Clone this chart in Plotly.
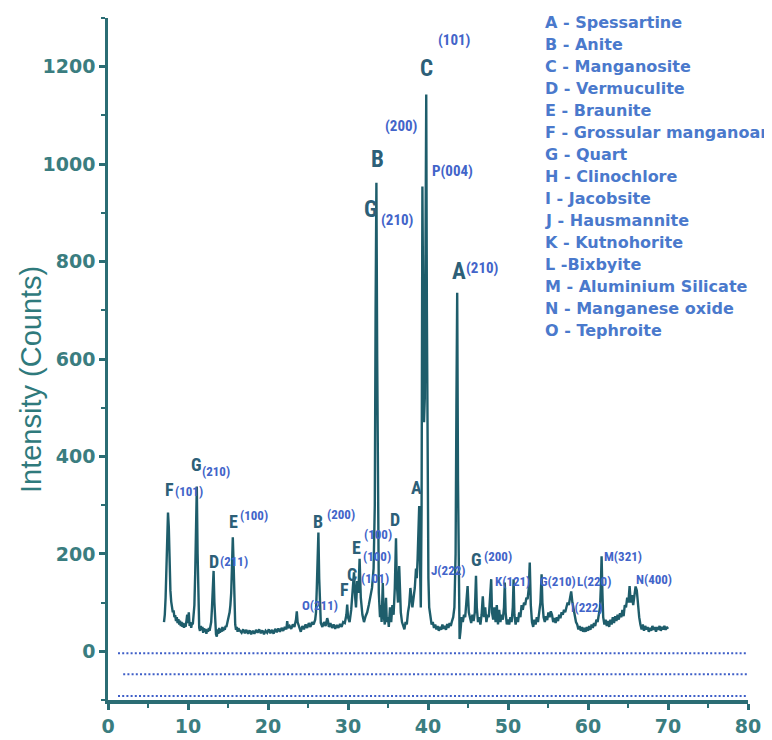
import plotly.graph_objects as go

# ---------------- data ----------------
two_theta = [
    7.00, 7.10, 7.20, 7.30, 7.40, 7.50, 7.60, 7.70, 7.80, 7.90, 8.00, 8.10, 8.20, 8.30, 8.40, 8.50,
    8.60, 8.70, 8.80, 8.90, 9.00, 9.10, 9.20, 9.30, 9.40, 9.50, 9.60, 9.70, 9.80, 9.90, 10.00, 10.10,
    10.20, 10.30, 10.40, 10.50, 10.60, 10.70, 10.80, 10.90, 11.00, 11.10, 11.20, 11.30, 11.40, 11.50, 11.60,
    11.70, 11.80, 11.90, 12.00, 12.10, 12.20, 12.30, 12.40, 12.50, 12.60, 12.70, 12.80, 12.90, 13.00,
    13.10, 13.20, 13.30, 13.40, 13.50, 13.60, 13.70, 13.80, 13.90, 14.00, 14.10, 14.20, 14.30, 14.40,
    14.50, 14.60, 14.70, 14.80, 14.90, 15.00, 15.10, 15.20, 15.30, 15.40, 15.50, 15.60, 15.70, 15.80,
    15.90, 16.00, 16.10, 16.20, 16.30,
    16.5, 16.7, 16.9, 17.1, 17.3, 17.5, 17.7, 17.9, 18.1, 18.3, 18.5, 18.7, 18.9, 19.1, 19.3, 19.5,
    19.7, 19.9, 20.1, 20.3, 20.5, 20.7, 20.9, 21.1, 21.3, 21.5, 21.7, 21.9, 22.1, 22.3, 22.4, 22.5,
    22.7, 22.9, 23.1, 23.3, 23.5, 23.6, 23.7, 23.9, 24.1, 24.3, 24.5, 24.7, 24.9, 25.1, 25.3, 25.5,
    25.7, 25.9, 26.0, 26.1, 26.2, 26.3, 26.4, 26.5, 26.6, 26.8, 27.0, 27.2, 27.4, 27.5, 27.6, 27.8,
    28.0, 28.2, 28.4, 28.6, 28.8, 29.0, 29.2, 29.4, 29.6, 29.8, 29.9, 30.0, 30.2, 30.4, 30.6, 30.75,
    30.9, 31.0, 31.15, 31.3, 31.45, 31.6, 31.8, 32.0, 32.2, 32.4, 32.6, 32.8, 33.0, 33.2, 33.35, 33.45,
    33.55, 33.65, 33.75, 33.85, 34.0, 34.1, 34.2, 34.35, 34.45, 34.6, 34.75, 34.85, 35.0, 35.1, 35.25,
    35.4, 35.55, 35.7, 35.85, 36.0, 36.1, 36.25, 36.4, 36.5, 36.6, 36.75, 36.9, 37.05, 37.2, 37.35,
    37.5, 37.65, 37.8, 37.9, 38.05, 38.2, 38.35, 38.5, 38.6, 38.7, 38.8, 38.9, 39.0, 39.1, 39.2, 39.3,
    39.4, 39.5, 39.6, 39.7, 39.78, 39.86, 39.95, 40.05, 40.15, 40.3, 40.45, 40.6, 40.75, 40.9, 41.05,
    41.2, 41.35, 41.5, 41.65, 41.8, 41.95, 42.1, 42.25, 42.4, 42.55, 42.7, 42.85, 43.0, 43.15, 43.3,
    43.45, 43.55, 43.65, 43.75, 43.85, 43.95, 44.05, 44.2, 44.35, 44.5, 44.65, 44.8, 44.95, 45.1,
    45.25, 45.4, 45.55, 45.7, 45.85, 46.0, 46.1, 46.25, 46.4, 46.55, 46.7, 46.85, 47.0, 47.15, 47.3,
    47.45, 47.6, 47.75, 47.9, 48.0, 48.15, 48.3, 48.45, 48.6, 48.75, 48.9, 49.05, 49.2, 49.35, 49.5,
    49.6, 49.7, 49.85, 50.0, 50.15, 50.3, 50.45, 50.6, 50.7, 50.8, 50.95, 51.1, 51.25, 51.4, 51.55,
    51.7, 51.85, 52.0, 52.15, 52.3, 52.45, 52.6, 52.72, 52.85, 53.0, 53.15, 53.3, 53.45, 53.6, 53.75,
    53.9, 54.05, 54.2, 54.3, 54.45, 54.6, 54.75, 54.9, 55.05, 55.2, 55.35, 55.5, 55.65, 55.8, 55.95,
    56.1, 56.25, 56.4, 56.55, 56.7, 56.85, 57.0, 57.15, 57.3, 57.45, 57.6, 57.75, 57.9, 58.05, 58.2,
    58.35, 58.5, 58.65, 58.8, 58.95, 59.1, 59.25, 59.4, 59.55, 59.7, 59.85, 60.0, 60.15, 60.3, 60.45,
    60.6, 60.75, 60.9, 61.05, 61.2, 61.35, 61.5, 61.6, 61.7, 61.8, 61.9, 62.05, 62.2, 62.35, 62.5,
    62.65, 62.8, 62.95, 63.1, 63.25, 63.4, 63.55, 63.7, 63.85, 64.0, 64.15, 64.3, 64.45, 64.6, 64.75,
    64.9, 65.05, 65.2, 65.35, 65.5, 65.65, 65.8, 65.95, 66.1, 66.25, 66.4, 66.55, 66.7, 66.85, 67.0,
    67.15, 67.3, 67.45, 67.6, 67.75, 67.9, 68.05, 68.2, 68.35, 68.5, 68.65, 68.8, 68.95, 69.1, 69.25,
    69.4, 69.55, 69.7, 69.85, 70.0,
]
counts = [
    60, 75, 110, 165, 240, 285, 255, 170, 125, 102, 92, 80, 84, 70, 74, 62,
    70, 58, 66, 55, 63, 52, 60, 50, 58, 48, 57, 50, 62, 75, 58, 80,
    52, 60, 48, 58, 55, 70, 95, 160, 280, 338, 200, 80, 48, 42, 52,
    44, 50, 38, 47, 40, 46, 36, 45, 40, 48, 42, 52, 60, 90,
    140, 165, 100, 55, 35, 30, 45, 36, 48, 38, 46, 40, 50, 42,
    48, 44, 52, 50, 58, 62, 70, 80, 95, 120, 175, 234, 180, 90,
    55, 44, 50, 40, 47,
    42, 38, 45, 37, 44, 36, 43, 35, 42, 36, 44, 38, 45, 37, 43, 35,
    42, 38, 45, 37, 44, 36, 46, 39, 47, 40, 48, 42, 50, 45, 62, 48,
    52, 46, 55, 50, 65, 82, 60, 48, 40, 52, 45, 55, 48, 58, 50, 60,
    55, 65, 80, 130, 210, 244, 150, 80, 58, 50, 60, 52, 68, 62, 50, 58,
    48, 55, 46, 54, 48, 56, 50, 60, 58, 75, 96, 70, 60, 85, 120, 162,
    110, 90, 144, 120, 190, 110, 75, 60, 72, 80, 95, 110, 130, 170, 300, 700,
    962, 600, 220, 120, 70, 95, 60, 140, 75, 55, 110, 60, 70, 50, 90,
    60, 95, 75, 130, 232, 140, 100, 175, 120, 80, 60, 50, 45, 60, 55,
    80, 95, 130, 110, 90, 110, 130, 170, 150, 190, 230, 298, 180, 90, 300, 954,
    700, 470, 520, 800, 1143, 700, 260, 150, 90, 65, 55, 60, 48, 55, 45,
    52, 42, 50, 44, 55, 46, 52, 44, 56, 48, 58, 52, 62, 70, 90,
    200, 500, 736, 350, 80, 25, 40, 70, 60, 75, 70, 100, 134, 80,
    65, 58, 75, 62, 80, 155, 90, 60, 70, 55, 75, 113, 70, 90, 60,
    75, 70, 100, 148, 80, 65, 90, 60, 95, 55, 85, 60, 75, 65, 90,
    141, 80, 55, 65, 55, 70, 60, 90, 148, 75, 55, 70, 60, 80, 70,
    95, 85, 100, 95, 110, 107, 130, 182, 95, 60, 50, 65, 55, 70, 60,
    80, 100, 158, 100, 70, 60, 72, 64, 80, 70, 82, 75, 60, 68, 58,
    70, 62, 75, 68, 80, 75, 85, 80, 90, 100, 95, 115, 123, 100, 85,
    75, 60, 55, 45, 52, 42, 50, 40, 48, 40, 50, 42, 52, 44, 55,
    48, 58, 52, 65, 60, 75, 90, 130, 195, 120, 70, 55, 65, 52, 62,
    50, 65, 55, 70, 58, 72, 62, 75, 65, 78, 70, 85, 72, 95, 90,
    110, 100, 134, 100, 115, 95, 110, 133, 125, 90, 70, 55, 45, 55, 42,
    52, 45, 50, 40, 48, 42, 52, 44, 50, 40, 50, 44, 52, 42, 50,
    45, 52, 44, 50, 46,
]

legend_lines = [
    "A - Spessartine", "B - Anite", "C - Manganosite", "D - Vermuculite", "E - Braunite",
    "F - Grossular manganoan", "G - Quart", "H - Clinochlore", "I - Jacobsite", "J - Hausmannite",
    "K - Kutnohorite", "L -Bixbyite", "M - Aluminium Silicate", "N - Manganese oxide", "O - Tephroite",
]

# phase letters on peaks (2theta, counts position)
big_letters = ["C", "B", "G", "A"]
big_letters_x = [39.83, 33.67, 32.75, 43.9]
big_letters_y = [1197, 1009, 907, 780]

small_letters = ["F", "G", "D", "E", "B", "F", "C", "E", "D", "A", "G"]
small_letters_x = [7.7, 11.1, 13.2, 15.7, 26.3, 29.6, 30.55, 31.1, 35.9, 38.6, 46.0]
small_letters_y = [332, 384, 185, 267, 267, 126, 157, 213, 271, 336, 189]

top_indices = ["(101)", "(200)", "P(004)", "(210)", "(210)"]
top_indices_x = [41.0, 34.33, 40.25, 33.9, 44.5]
top_indices_y = [1255, 1078, 985, 886, 787]

low_indices = ["(101)", "(210)", "(211)", "(100)", "(200)", "(101)", "(100)", "(100)", "O(211)",
               "J(222)", "(200)", "K(121)", "G(210)", "L(220)", "I(222)", "M(321)", "N(400)"]
low_indices_x = [8.1, 11.5, 13.8, 16.3, 27.1, 31.4, 31.65, 31.8, 24.0,
                 40.15, 46.7, 48.1, 53.8, 58.4, 57.6, 61.8, 65.7]
low_indices_y = [327, 370, 185, 278, 281, 150, 195, 240, 93,
                 165, 195, 144, 144, 144, 90, 195, 148]

dotted_levels = [-4, -47, -92]
dotted_start = [1.25, 1.9, 1.25]

# ---------------- styling ----------------
TEAL = "#2b6d74"
TICK_TEAL = "#3a7d80"
CURVE = "#1e5d6b"
LETTER = "#2d5f78"
INDEX = "#4264c9"
LEGEND = "#4a79cc"
NARROW = "Liberation Sans Narrow, Arial Narrow, Roboto Condensed, Liberation Sans, Arial"

fig = go.Figure()
fig.add_trace(go.Scatter(x=two_theta, y=counts, mode="lines",
                         line=dict(color=CURVE, width=2.4), showlegend=False, hoverinfo="skip"))

for lvl, x0 in zip(dotted_levels, dotted_start):
    fig.add_shape(type="line", xref="x", yref="y", x0=x0, x1=80, y0=lvl, y1=lvl,
                  line=dict(color="#3f5fc8", width=2, dash="2px,2.2px"), layer="below")

ann = []
for t, x, y in zip(big_letters, big_letters_x, big_letters_y):
    ann.append(dict(x=x, y=y, text=t, xref="x", yref="y", showarrow=False,
                    xanchor="center", yanchor="middle",
                    font=dict(family=NARROW, size=23, color=LETTER, weight="bold")))
for t, x, y in zip(small_letters, small_letters_x, small_letters_y):
    ann.append(dict(x=x, y=y, text=t, xref="x", yref="y", showarrow=False,
                    xanchor="center", yanchor="middle",
                    font=dict(family=NARROW, size=18, color=LETTER, weight="bold")))
for t, x, y in zip(top_indices, top_indices_x, top_indices_y):
    ann.append(dict(x=x, y=y, text=t, xref="x", yref="y", showarrow=False,
                    xanchor="left", yanchor="middle",
                    font=dict(family=NARROW, size=15, color=INDEX, weight="bold")))
for t, x, y in zip(low_indices, low_indices_x, low_indices_y):
    ann.append(dict(x=x, y=y, text=t, xref="x", yref="y", showarrow=False,
                    xanchor="left", yanchor="middle",
                    font=dict(family=NARROW, size=13, color=INDEX, weight="bold")))

# legend text block (screen pixel rows -> paper coords of the plot area)
for i, line in enumerate(legend_lines):
    py = 22.7 + i * 22.0
    ann.append(dict(x=(543 - 108) / 640, y=(700 - py) / 682, text=line,
                    xref="paper", yref="paper", showarrow=False,
                    xanchor="left", yanchor="middle",
                    font=dict(family="DejaVu Sans", size=16, color=LEGEND, weight="bold")))

# y-axis title
ann.append(dict(x=(31 - 108) / 640, y=(700 - 380) / 682, text="Intensity (Counts)",
                xref="paper", yref="paper", showarrow=False, textangle=-90,
                xanchor="center", yanchor="middle",
                font=dict(family="Liberation Sans, Arial", size=29, color="#2f7a7c")))

tickfont = dict(family="DejaVu Sans", size=19, color=TICK_TEAL, weight="bold")

fig.update_layout(
    width=772, height=740,
    margin=dict(l=100, r=32, t=10, b=48, pad=0),
    paper_bgcolor="white", plot_bgcolor="white",
    annotations=ann,
    xaxis=dict(range=[0, 80], dtick=10, tick0=0, showgrid=False, zeroline=False,
               showline=True, linecolor=TEAL, linewidth=4,
               ticks="outside", ticklen=6, tickwidth=2.5, tickcolor=TEAL,
               minor=dict(dtick=5, ticks="outside", ticklen=4, tickwidth=2, tickcolor=TEAL),
               tickfont=tickfont, automargin=False),
    yaxis=dict(range=[-100, 1300], dtick=200, tick0=0, showgrid=False, zeroline=False,
               showline=True, linecolor=TEAL, linewidth=2.5,
               ticks="outside", ticklen=6, tickwidth=2.5, tickcolor=TEAL,
               minor=dict(dtick=100, tick0=0, ticks="outside", ticklen=4, tickwidth=2, tickcolor=TEAL),
               tickfont=tickfont, automargin=False),
)

fig.write_html("out.html")
